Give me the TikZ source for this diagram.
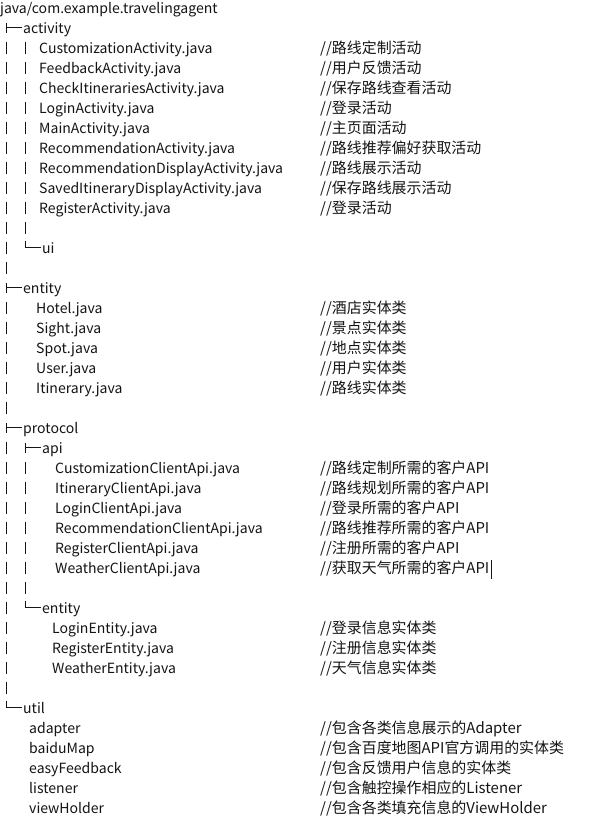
\documentclass[tikz,border=0pt]{standalone}
\usepackage{fontspec}
\setmainfont{Noto Sans CJK SC}
\usepackage{tikz}
\definecolor{treeink}{RGB}{20,20,20}
\tikzset{
  entry/.style={anchor=base west, inner sep=0pt, text=treeink,
    font=\fontsize{14.1}{17}\selectfont},
  remark/.style={entry, font=\fontsize{15}{18}\selectfont},
  bar/.style={draw=treeink, line width=1.5pt},
  twig/.style={draw=treeink, line width=0.9pt}
}

\begin{document}
\begin{tikzpicture}[x=1bp, y=-1bp]
      \useasboundingbox (0,0) rectangle (595,828);
      % file names
      \begin{scope}[every node/.style={entry}]
        \node (root) at (0,13.5) {java/com.example.travelingagent};
        \node (activity) at (23,33.5) {activity};
        \node (custact) at (39,53.5) {CustomizationActivity.java};
        \node (feedact) at (39,73.5) {FeedbackActivity.java};
        \node (checkact) at (39,93.5) {CheckItinerariesActivity.java};
        \node (loginact) at (39,113.5) {LoginActivity.java};
        \node (mainact) at (39,133.5) {MainActivity.java};
        \node (recoact) at (39,153.5) {RecommendationActivity.java};
        \node (recdisact) at (39,173.5) {RecommendationDisplayActivity.java};
        \node (savedact) at (39,193.5) {SavedItineraryDisplayActivity.java};
        \node (regact) at (39,213.5) {RegisterActivity.java};
        \node (ui) at (42,253.5) {ui};
        \node (entity) at (23,293.5) {entity};
        \node (hotel) at (36,313.5) {Hotel.java};
        \node (sight) at (36,333.5) {Sight.java};
        \node (spot) at (36,353.5) {Spot.java};
        \node (user) at (36,373.5) {User.java};
        \node (itin) at (36,393.5) {Itinerary.java};
        \node (protocol) at (23,433.5) {protocol};
        \node (api) at (42,453.5) {api};
        \node (custapi) at (55,473.5) {CustomizationClientApi.java};
        \node (itinapi) at (55,493.5) {ItineraryClientApi.java};
        \node (loginapi) at (55,513.5) {LoginClientApi.java};
        \node (recoapi) at (55,533.5) {RecommendationClientApi.java};
        \node (regapi) at (55,553.5) {RegisterClientApi.java};
        \node (weatherapi) at (55,573.5) {WeatherClientApi.java};
        \node (pentity) at (42,613.5) {entity};
        \node (loginent) at (52,633.5) {LoginEntity.java};
        \node (regent) at (52,653.5) {RegisterEntity.java};
        \node (weatherent) at (52,673.5) {WeatherEntity.java};
        \node (util) at (23,713.5) {util};
        \node (adapter) at (29,733.5) {adapter};
        \node (baidu) at (29,753.5) {baiduMap};
        \node (easyfb) at (29,773.5) {easyFeedback};
        \node (listener) at (29,793.5) {listener};
        \node (holder) at (29,813.5) {viewHolder};
      \end{scope}
      % comments
      \begin{scope}[every node/.style={remark}]
        \node (c1) at (320,53.5) {//路线定制活动};
        \node (c2) at (320,73.5) {//用户反馈活动};
        \node (c3) at (320,93.5) {//保存路线查看活动};
        \node (c4) at (320,113.5) {//登录活动};
        \node (c5) at (320,133.5) {//主页面活动};
        \node (c6) at (320,153.5) {//路线推荐偏好获取活动};
        \node (c7) at (320,173.5) {//路线展示活动};
        \node (c8) at (320,193.5) {//保存路线展示活动};
        \node (c9) at (320,213.5) {//登录活动};
        \node (c10) at (320,313.5) {//酒店实体类};
        \node (c11) at (320,333.5) {//景点实体类};
        \node (c12) at (320,353.5) {//地点实体类};
        \node (c13) at (320,373.5) {//用户实体类};
        \node (c14) at (320,393.5) {//路线实体类};
        \node (c15) at (320,473.5) {//路线定制所需的客户API};
        \node (c16) at (320,493.5) {//路线规划所需的客户API};
        \node (c17) at (320,513.5) {//登录所需的客户API};
        \node (c18) at (320,533.5) {//路线推荐所需的客户API};
        \node (c19) at (320,553.5) {//注册所需的客户API};
        \node (c20) at (320,573.5) {//获取天气所需的客户API};
        \node (c21) at (320,633.5) {//登录信息实体类};
        \node (c22) at (320,653.5) {//注册信息实体类};
        \node (c23) at (320,673.5) {//天气信息实体类};
        \node (c24) at (320,733.5) {//包含各类信息展示的Adapter};
        \node (c25) at (320,753.5) {//包含百度地图API官方调用的实体类};
        \node (c26) at (320,773.5) {//包含反馈用户信息的实体类};
        \node (c27) at (320,793.5) {//包含触控操作相应的Listener};
        \node (c28) at (320,813.5) {//包含各类填充信息的ViewHolder};
      \end{scope}
      % text cursor
      \draw[treeink, line width=0.8pt] ([xshift=1.5bp]c20.base east) ++(0,5) -- ++(0,-19);
      % tree bars, one per row
      \begin{scope}[every path/.style={bar}]
        \foreach \r in {2,...,13,15,16,...,20,22,23,...,34}
          \draw (6.5,7.5+20*\r-6) -- (6.5,7.5+20*\r+6);
        \foreach \r in {2,...,11,23,24,...,29}
          \draw (25.5,7.5+20*\r-6) -- (25.5,7.5+20*\r+6);
      \end{scope}
      % branches
      \begin{scope}[every path/.style={twig}]
        \draw (6.5,22.5) -- (6.5,32.5) (6.5,27.5) -- (22,27.5);
        \draw (6.5,282.5) -- (6.5,292.5) (6.5,287.5) -- (22,287.5);
        \draw (6.5,422.5) -- (6.5,432.5) (6.5,427.5) -- (22,427.5);
        \draw (6.5,700.5) -- (6.5,707.5) -- (22,707.5);
        \draw (25.5,442.5) -- (25.5,452.5) (25.5,447.5) -- (41,447.5);
        \draw (25.5,240.5) -- (25.5,247.5) -- (41,247.5);
        \draw (25.5,600.5) -- (25.5,607.5) -- (41,607.5);
      \end{scope}
    \end{tikzpicture}
\end{document}
